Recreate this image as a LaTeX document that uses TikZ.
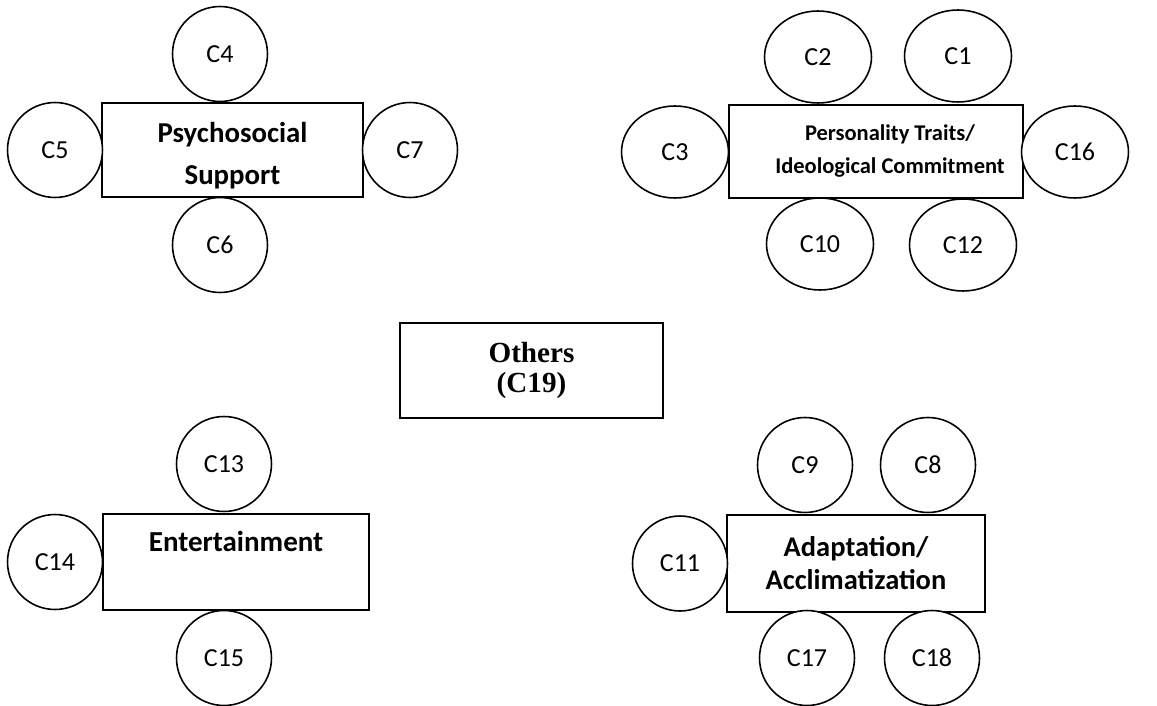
\documentclass[tikz,border=0pt]{standalone}
\usepackage{fontspec}
\setmainfont{Carlito}
\newfontfamily\othersfont{Liberation Serif}
\usepackage{tikz}
\usetikzlibrary{positioning}
\usetikzlibrary{calc}
\usetikzlibrary{shapes.geometric}
\tikzstyle{cnode}=[black,draw=black,line width=0.9pt,shape=circle,fill=white,minimum size=1.9cm,inner sep=0pt,font=\fontsize{14.8}{17}\selectfont]
\tikzstyle{enode}=[cnode,shape=ellipse,minimum width=2.14cm,minimum height=1.84cm]
\tikzstyle{catbox}=[black,draw=black,line width=1.4pt,shape=rectangle,fill=white,align=center,inner sep=0pt]

\begin{document}
\begin{tikzpicture}[x=0.02cm, y=-0.02cm]
	\useasboundingbox (0, 0) rectangle (1157, 706);
	
	% Psychosocial support
	\begin{scope}
	\node[catbox, minimum width=5.22cm, minimum height=1.88cm, text height=1.47cm, font=\bfseries\fontsize{16.4}{23.9}\selectfont] (psy) at (232.5, 150) {Psychosocial\\Support};
	\node[cnode] (c4) at ($(psy) + (-12.5, -96)$) {C4};
	\node[cnode] (c5) at ($(psy) + (-177.5, 0)$) {C5};
	\node[cnode] (c7) at ($(psy) + (177.5, 0)$) {C7};
	\node[cnode] (c6) at ($(psy) + (-12.5, 95)$) {C6};
	\end{scope}
	
	% Personality traits
	\begin{scope}
	\node[catbox, minimum width=5.88cm, minimum height=1.86cm, font=\bfseries\fontsize{12.8}{18.8}\selectfont] (pers) at (876, 151.5) {\hspace*{0.56cm}Personality Traits/\\\hspace*{0.56cm}Ideological Commitment};
	\node[enode] (c2) at ($(pers) + (-58, -94.5)$) {C2};
	\node[enode] (c1) at ($(pers) + (82, -95.5)$) {C1};
	\node[enode] (c3) at ($(pers) + (-201, 0.5)$) {C3};
	\node[enode] (c16) at ($(pers) + (199, 0.5)$) {C16};
	\node[enode] (c10) at ($(pers) + (-56, 92.5)$) {C10};
	\node[enode] (c12) at ($(pers) + (87, 93.5)$) {C12};
	\end{scope}
	
	% Others
	\node[catbox, minimum width=5.26cm, minimum height=1.9cm, font=\othersfont\bfseries\fontsize{16.6}{17.2}\selectfont] (oth) at (531.5, 370.5) {Others\\(C19)};
	
	% Entertainment
	\begin{scope}
	\node[catbox, minimum width=5.32cm, minimum height=1.92cm, text depth=0.82cm, font=\bfseries\fontsize{16.5}{20}\selectfont] (ent) at (236, 562) {Entertainment};
	\node[cnode] (c13) at ($(ent) + (-12, -98)$) {C13};
	\node[cnode] (c14) at ($(ent) + (-181, 0)$) {C14};
	\node[cnode] (c15) at ($(ent) + (-12, 96)$) {C15};
	\end{scope}
	
	% Adaptation
	\begin{scope}
	\node[catbox, minimum width=5.16cm, minimum height=1.94cm, font=\bfseries\fontsize{16.2}{18.8}\selectfont] (adap) at (856, 563.5) {Adaptation/\\Acclimatization};
	\node[cnode] (c9) at ($(adap) + (-51, -98.5)$) {C9};
	\node[cnode] (c8) at ($(adap) + (72, -98.5)$) {C8};
	\node[cnode] (c11) at ($(adap) + (-176, 0)$) {C11};
	\node[cnode] (c17) at ($(adap) + (-49, 94.5)$) {C17};
	\node[cnode] (c18) at ($(adap) + (76, 94.5)$) {C18};
	\end{scope}
	
\end{tikzpicture}
\end{document}
